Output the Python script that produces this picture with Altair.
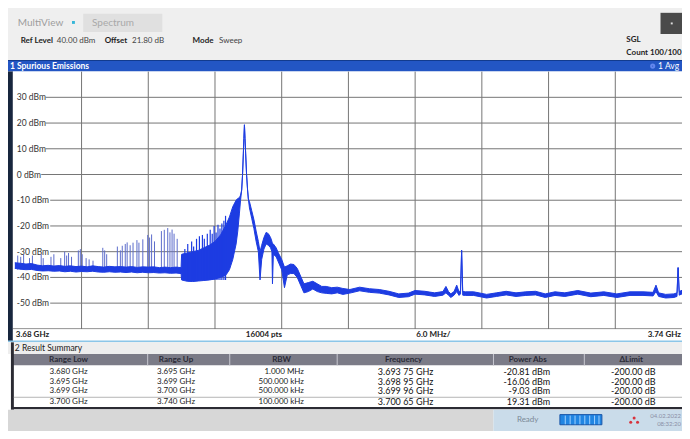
import altair as alt
import pandas as pd

# ---------------- data ----------------
# spectrum trace envelope: offset from 3.680 GHz in MHz, lower / upper level in dBm
offset_mhz = [0.0, 0.5, 1.0, 1.5, 2.0, 2.5, 3.0, 3.5, 4.0, 4.5, 5.0, 5.5, 6.0, 6.5, 7.0, 7.5,
              8.0, 8.5, 9.0, 9.5, 10.0, 10.5, 11.0, 11.5, 12.0, 12.5, 13.0, 13.5, 14.0, 14.5, 14.95,
              15.0, 15.5, 16.0, 16.5, 17.0, 17.5, 18.0, 18.5, 19.0, 19.3, 19.6, 19.9, 20.05, 20.2, 20.3,
              20.40, 20.48, 20.55, 20.60, 20.65, 20.70, 20.76, 20.84, 20.93, 21.00,
              21.10, 21.3, 21.5, 21.7, 21.9, 22.05, 22.2, 22.4, 22.6, 22.8, 23.0, 23.12, 23.17, 23.25,
              23.5, 23.7, 24.0, 24.25, 24.5, 24.8, 25.1, 25.4, 25.7, 26.0, 26.4, 26.8, 27.2, 27.6,
              28.0, 28.5, 29.0, 29.5, 30.13, 31.01, 31.89, 32.77, 33.65, 34.53, 35.40, 35.99, 36.87,
              37.75, 38.50, 38.77, 39.00, 39.21, 39.50, 39.74, 39.95, 40.08, 40.18, 40.28, 40.53,
              41.26, 42.43, 43.31, 44.19, 45.07, 45.95, 46.83, 47.70, 48.58, 49.46, 50.63, 51.80,
              52.97, 54.14, 55.32, 56.49, 57.40, 57.66, 57.90, 58.53, 59.27, 59.55, 59.65, 59.75, 60.0]
level_low = [-36.5, -36.8, -37.0, -36.9, -37.3, -37.5, -37.4, -37.6, -37.5, -37.8, -37.6, -37.9, -37.7,
             -37.8, -37.6, -37.9, -38.0, -37.8, -38.0, -37.9, -38.1, -37.9, -38.2, -38.0, -38.2, -38.1,
             -38.3, -38.2, -38.4, -38.3, -38.5,
             -41.0, -41.5, -41.6, -41.4, -41.2, -41.0, -40.6, -40.0, -39.0, -37.0, -33.0, -27.0, -22.0,
             -15.0, -10.0,
             -6.0, 0.0, 8.0, 14.0, 19.31, 14.0, 8.0, 0.0, -6.0, -9.5,
             -13.0, -17.0, -21.0, -26.0, -30.0, -41.0, -33.0, -29.0, -27.0, -27.5, -28.5, -30.0, -42.5,
             -31.0, -32.0, -34.0, -37.0, -44.0, -39.0, -38.5, -38.5, -40.0, -43.0, -46.0, -45.5, -44.5,
             -45.5, -46.0, -46.2, -46.4, -46.0, -46.6,
             -46.1, -45.2, -45.8, -46.1, -46.8, -47.8, -47.5, -46.5, -46.8, -47.4,
             -46.9, -46.0, -46.9, -47.8, -46.9, -45.5, -47.0, -46.4, -29.5, -46.9,
             -47.0, -47.0, -48.0, -47.4, -46.8, -47.4, -47.0, -46.8, -47.8, -47.0,
             -47.4, -46.5, -47.5, -47.0, -47.8, -47.0, -47.0, -47.2, -45.5, -47.4,
             -48.0, -47.8, -47.4, -36.2, -46.9, -46.4]
level_high = [-34.3, -34.5, -34.8, -34.6, -35.2, -35.5, -35.3, -35.6, -35.4, -35.7, -35.5, -35.8, -35.6,
              -35.9, -35.5, -35.8, -36.0, -35.7, -35.9, -35.8, -36.0, -35.8, -36.1, -35.9, -36.0, -35.9,
              -36.2, -36.0, -36.2, -36.0, -36.2,
              -31.0, -30.5, -30.0, -29.5, -28.5, -27.5, -26.0, -23.5, -19.5, -16.5, -12.5, -10.0, -9.3,
              -9.0, -8.0,
              -6.0, 0.0, 8.0, 14.0, 19.31, 14.0, 8.0, 0.0, -6.0, -9.5,
              -10.5, -14.0, -17.5, -22.0, -26.0, -30.0, -27.5, -24.5, -22.5, -23.0, -24.5, -26.0, -27.0,
              -27.0, -28.5, -30.5, -33.0, -36.0, -35.5, -34.8, -35.0, -36.5, -39.5, -42.5, -42.0, -41.5,
              -42.5, -43.5, -43.5, -44.0, -43.8, -44.3,
              -44.7, -43.8, -44.4, -44.7, -45.4, -46.4, -46.1, -45.1, -45.4, -46.0,
              -45.5, -43.5, -45.5, -46.4, -45.5, -43.0, -45.6, -45.0, -29.5, -45.5,
              -45.6, -45.6, -46.6, -46.0, -45.4, -46.0, -45.6, -45.4, -46.4, -45.6,
              -46.0, -45.1, -46.1, -45.6, -46.4, -45.6, -45.6, -45.8, -43.0, -46.0,
              -46.6, -46.4, -46.0, -36.2, -45.5, -45.0]

# discrete spurs below 3.695 GHz (thin lines above the noise floor)
spur_a_mhz = [0.26, 0.53, 0.79, 1.32, 1.58, 2.37, 2.55, 3.25, 3.51, 4.13, 4.48, 4.66, 4.83, 5.10,
              5.71, 5.89, 6.06, 6.41, 6.68, 7.03, 7.91, 8.08, 8.26, 9.22, 9.49, 9.66, 9.93, 10.10,
              10.37, 10.63, 10.98, 11.16, 11.51, 11.95, 12.12, 12.30, 12.56, 13.18, 13.44, 13.75,
              13.95, 14.14, 14.32, 14.60]
spur_a_top = [-31.5, -32.0, -31.0, -32.5, -31.5, -31.0, -32.5, -32.0, -31.0, -32.5, -30.0, -31.5,
              -30.5, -32.0, -29.5, -29.0, -31.0, -32.5, -33.0, -33.5, -28.5, -29.5, -31.0, -28.0,
              -29.5, -27.7, -27.0, -26.4, -27.5, -26.5, -25.5, -26.5, -25.2, -23.5, -24.5, -23.3,
              -26.0, -22.0, -21.5, -20.81, -22.5, -21.4, -23.0, -25.0]
spur_a_base = -37.0
# dense spurs between 3.695 and 3.699 GHz
spur_b_mhz = [15.29, 15.55, 15.90, 16.08, 16.34, 16.60, 16.87, 17.04, 17.31, 17.57, 17.75, 17.92,
              18.10, 18.27, 18.45, 18.62, 18.80, 18.95]
spur_b_top = [-29.0, -27.0, -26.0, -28.0, -25.0, -24.0, -23.5, -25.0, -23.0, -21.5, -23.0, -20.0,
              -22.5, -19.5, -21.0, -19.0, -18.0, -16.06]
spur_b_base = -41.0

grid_mhz = [6, 12, 18, 24, 30, 36, 42, 48, 54]
level_ticks = [30, 20, 10, 0, -10, -20, -30, -40, -50]
level_labels = ["30 dBm", "20 dBm", "10 dBm", "0 dBm", "-10 dBm", "-20 dBm", "-30 dBm", "-40 dBm", "-50 dBm"]
footer_labels = ["3.68 GHz", "16004 pts", "6.0 MHz/", "3.74 GHz"]

table_columns = ["Range Low", "Range Up", "RBW", "Frequency", "Power Abs", "\u0394Limit"]
range_low = ["3.680 GHz", "3.695 GHz", "3.699 GHz", "3.700 GHz"]
range_up = ["3.695 GHz", "3.699 GHz", "3.700 GHz", "3.740 GHz"]
rbw = ["1.000 MHz", "500.000 kHz", "500.000 kHz", "100.000 kHz"]
peak_freq = ["3.693 75 GHz", "3.698 95 GHz", "3.699 96 GHz", "3.700 65 GHz"]
power_abs = ["-20.81 dBm", "-16.06 dBm", "-9.03 dBm", "19.31 dBm"]
delta_limit = ["-200.00 dB", "-200.00 dB", "-200.00 dB", "-200.00 dB"]

# ---------------- layout ----------------
W, H = 674, 423
SX, SY = W / 690.0, H / 439.0
def X(v): return v * SX
def Y(v): return v * SY

FONT = "Lato"
BLUE = "#1d3ce2"
one = pd.DataFrame({"k": [0]})

def box(x1, y1, x2, y2, fill, stroke=None, sw=0):
    kw = dict(fill=fill)
    if stroke:
        kw.update(stroke=stroke, strokeWidth=sw)
    return alt.Chart(one).mark_rect(**kw).encode(
        x=alt.value(X(x1)), x2=alt.value(X(x2)), y=alt.value(Y(y1)), y2=alt.value(Y(y2)))

def hline(x1, x2, y, color, w=1):
    return alt.Chart(one).mark_rule(color=color, strokeWidth=w).encode(
        x=alt.value(X(x1)), x2=alt.value(X(x2)), y=alt.value(Y(y)))

def vline(x, y1, y2, color, w=1):
    return alt.Chart(one).mark_rule(color=color, strokeWidth=w).encode(
        x=alt.value(X(x)), y=alt.value(Y(y1)), y2=alt.value(Y(y2)))

def txt(x, y, s, size=8, color="#222222", weight="normal", align="left"):
    return alt.Chart(one).mark_text(text=s, align=align, baseline="middle", fontSize=size,
                                    color=color, fontWeight=weight, font=FONT).encode(
        x=alt.value(X(x)), y=alt.value(Y(y)))

layers = []
# header
layers += [box(0, 0, 690, 54, "#efefef"),
           txt(10, 16, "MultiView", 10, "#9d9d9d"),
           box(65.5, 13.5, 68.5, 16.5, "#36b6d8"),
           box(77, 6, 158, 25, "#e0e0e0"),
           txt(86, 16, "Spectrum", 10, "#a9a9a9"),
           txt(13, 34, "Ref Level", 8, "#1e1e1e", "bold"),
           txt(50, 34, "40.00 dBm", 8, "#444444"),
           txt(99, 34, "Offset", 8, "#1e1e1e", "bold"),
           txt(127, 34, "21.80 dB", 8, "#444444"),
           txt(189, 34, "Mode", 8, "#1e1e1e", "bold"),
           txt(216, 34, "Sweep", 8, "#444444"),
           box(668, 5, 690, 27, "#4a4a4a"),
           box(678.5, 15, 680.5, 17, "#dddddd"),
           txt(633, 33, "SGL", 8, "#1e1e1e", "bold"),
           txt(633, 47, "Count 100/100", 8, "#1e1e1e", "bold")]
# title bar
layers += [box(0, 54, 690, 66, "#2356c4"),
           hline(0, 690, 54.5, "#123b8e"),
           txt(2, 60.3, "1 Spurious Emissions", 8.5, "#ffffff", "bold"),
           txt(687, 60.3, "1 Avg", 8.5, "#ffffff", align="right"),
           alt.Chart(one).mark_point(shape="circle", size=10, color="#7f9cff", filled=False).encode(
               x=alt.value(X(660)), y=alt.value(Y(60.3)))]
# plot frame
layers += [box(0, 66, 5, 346, "#18263e"),
           box(5, 66, 690, 333, "#ffffff")]

xs = alt.Scale(domain=[0, 60], range=[X(7), X(690)], nice=False, zero=False)
ys = alt.Scale(domain=[-60, 40], range=[Y(333), Y(66)], nice=False, zero=False)

grid_df = pd.DataFrame({"f": grid_mhz})
layers.append(alt.Chart(grid_df).mark_rule(color="#767676", strokeWidth=1).encode(
    x=alt.X("f:Q", scale=xs, axis=None), y=alt.value(Y(66)), y2=alt.value(Y(333))))
for lvl, lab in zip(level_ticks, level_labels):
    start = 10 + len(lab) * 4.6 + 1
    layers.append(alt.Chart(pd.DataFrame({"v": [lvl]})).mark_rule(color="#767676", strokeWidth=1).encode(
        y=alt.Y("v:Q", scale=ys, axis=None), x=alt.value(X(start)), x2=alt.value(X(690))))
layers.append(alt.Chart(pd.DataFrame({"v": [-60]})).mark_rule(color="#6a6a6a", strokeWidth=1).encode(
    y=alt.Y("v:Q", scale=ys, axis=None), x=alt.value(X(5)), x2=alt.value(X(690))))
lab_df = pd.DataFrame({"v": level_ticks, "t": level_labels})
layers.append(alt.Chart(lab_df).mark_text(align="left", baseline="middle", fontSize=8.5, color="#333333",
                                          font=FONT).encode(
    y=alt.Y("v:Q", scale=ys, axis=None), x=alt.value(X(9)), text="t:N"))

# trace
spec = pd.DataFrame({"f": offset_mhz, "lo": level_low, "hi": level_high})
sa = pd.DataFrame({"f": spur_a_mhz, "top": spur_a_top, "base": [spur_a_base] * len(spur_a_mhz)})
sb = pd.DataFrame({"f": spur_b_mhz, "top": spur_b_top, "base": [spur_b_base] * len(spur_b_mhz)})
layers.append(alt.Chart(sa).mark_rule(color="#5d6dcc", strokeWidth=1).encode(
    x=alt.X("f:Q", scale=xs, axis=None), y=alt.Y("base:Q", scale=ys, axis=None), y2="top:Q"))
layers.append(alt.Chart(spec).mark_area(color=BLUE, opacity=1).encode(
    x=alt.X("f:Q", scale=xs, axis=None), y=alt.Y("lo:Q", scale=ys, axis=None), y2="hi:Q"))
layers.append(alt.Chart(spec).mark_line(color=BLUE, strokeWidth=1).encode(
    x=alt.X("f:Q", scale=xs, axis=None), y=alt.Y("hi:Q", scale=ys, axis=None)))
layers.append(alt.Chart(spec).mark_line(color=BLUE, strokeWidth=1).encode(
    x=alt.X("f:Q", scale=xs, axis=None), y=alt.Y("lo:Q", scale=ys, axis=None)))
layers.append(alt.Chart(sb).mark_rule(color=BLUE, strokeWidth=1.2).encode(
    x=alt.X("f:Q", scale=xs, axis=None), y=alt.Y("base:Q", scale=ys, axis=None), y2="top:Q"))

# footer of the diagram
layers += [box(5, 333.5, 690, 345, "#ffffff"),
           txt(8, 339.5, footer_labels[0], 8, "#222222", "bold"),
           txt(262, 339.5, footer_labels[1], 8, "#222222", "bold", "center"),
           txt(418, 339.5, footer_labels[2], 8, "#222222", "bold"),
           txt(689, 339.5, footer_labels[3], 8, "#222222", "bold", "right"),
           box(0, 345, 690, 347, "#8cc6e8")]

# result summary
col_centers = [62, 172, 280, 405, 532, 638]
separators = [143, 227, 337, 497, 590]
layers += [box(0, 347, 690, 359, "#eeeeee"),
           txt(7, 353, "2 Result Summary", 8.5, "#222222"),
           box(5, 359, 690, 371, "#7b7b87"),
           box(5, 371, 690, 415, "#ffffff"),
           box(3, 347, 6, 417, "#2b2b33")]
for s in separators:
    layers.append(vline(s, 359, 371, "#c8c8d0"))
for c, name in zip(col_centers, table_columns):
    layers.append(txt(c, 365.5, name, 8, "#2a2a36", "bold", "center"))
row_y = [378, 388, 398, 409]
for i, ry in enumerate(row_y):
    layers.append(txt(62, ry, range_low[i], 8, "#222222", align="center"))
    layers.append(txt(172, ry, range_up[i], 8, "#222222", align="center"))
    layers.append(txt(303, ry, rbw[i], 8, "#222222", align="right"))
    layers.append(txt(407, ry, peak_freq[i], 9, "#111111", align="center"))
    layers.append(txt(555, ry, power_abs[i], 9, "#111111", align="right"))
    layers.append(txt(663, ry, delta_limit[i], 9, "#111111", align="right"))
layers += [hline(6, 690, 404, "#b5b5b5"),
           box(5, 414, 690, 416.5, "#2b2b33")]

# status bar
layers += [box(0, 417, 497, 439, "#d7d7d7"),
           box(497, 417, 690, 439, "#cadcea"),
           txt(532, 427.5, "Ready", 8, "#7c8a98", align="center"),
           box(565, 422, 608, 432.5, "#2185e2", "#1b56a8", 1)]
for px in [570.5, 575.5, 580.5, 585.5, 590.5, 595.5, 600.5, 605]:
    layers.append(vline(px, 423, 432, "#9fd0ff"))
for (cx, cy) in [(637.5, 430), (641, 425.5), (644.5, 430)]:
    layers.append(alt.Chart(one).mark_circle(size=9, color="#d8323c", opacity=1).encode(
        x=alt.value(X(cx)), y=alt.value(Y(cy))))
layers += [txt(689, 423, "04.02.2022", 6, "#8a8fa6", align="right"),
           txt(689, 432, "08:32:20", 6, "#8a8fa6", align="right")]

chart = alt.layer(*layers).properties(
    width=W, height=H, padding=0,
    autosize=alt.AutoSizeParams(type="none"),
    background="#ffffff"
).configure_view(stroke=None)

chart.save("out.html", embed_options={"renderer": "svg", "actions": False})
